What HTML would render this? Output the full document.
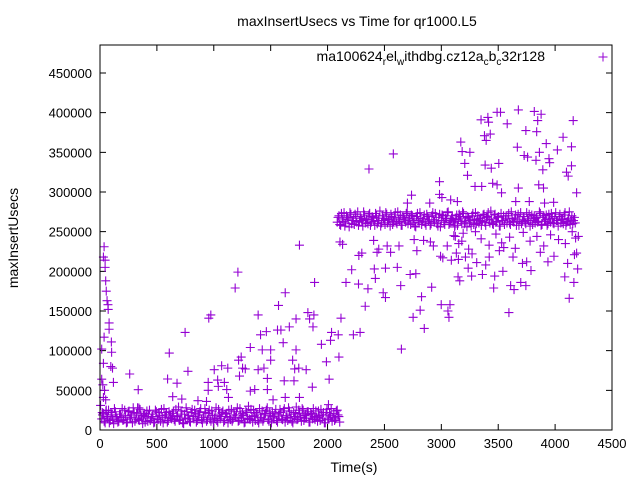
<!DOCTYPE html>
<html><head><meta charset="utf-8"><style>
html,body{margin:0;padding:0;background:#fff}
svg{display:block;font-family:"Liberation Sans",sans-serif}
</style></head><body>
<svg id="chart" width="640" height="480" viewBox="0 0 640 480">
<rect x="0" y="0" width="640" height="480" fill="#fff"/>
<text x="357" y="26" text-anchor="middle" font-size="14">maxInsertUsecs vs Time for qr1000.L5</text>
<text transform="translate(18,238) rotate(-90)" text-anchor="middle" font-size="14">maxInsertUsecs</text>
<text x="354" y="472" text-anchor="middle" font-size="14">Time(s)</text>
<g id="ticks"></g>
<g id="marks"></g>
<rect x="100" y="45" width="512" height="385" fill="none" stroke="#000" stroke-width="1"/>
<g>
<text x="545" y="61" text-anchor="end" font-size="14">ma100624<tspan font-size="10" dy="4">r</tspan><tspan dy="-4">el</tspan><tspan font-size="10" dy="4">w</tspan><tspan dy="-4">ithdbg.cz12a</tspan><tspan font-size="10" dy="4">c</tspan><tspan dy="-4">b</tspan><tspan font-size="10" dy="4">c</tspan><tspan dy="-4">32r128</tspan></text>
<path d="M598.5 57H607.5M603 52.5V61.5" stroke="#9400d3" stroke-width="1"/>
</g>
</svg>
<script>
const xTicks=[0,500,1000,1500,2000,2500,3000,3500,4000,4500];
const yTicks=[0,50000,100000,150000,200000,250000,300000,350000,400000,450000];
const band1Start=15, band1Step=15;
const band1A=[14000,21000,9000,17000,25000,12000,19000,8000,23000,15000,11000,20000,27000,13000,
18000,10000,24000,16000,9000,22000,14000,28000,12000,19000,8000,21000,17000,11000,
25000,15000,20000,10000,23000,13000,18000,26000,9000,16000,22000,12000,19000,14000,
24000,11000,17000,29000,13000,20000,8000,15000,23000,18000,10000,26000,14000,21000,
12000,19000,27000,9000,16000,22000,13000,25000,11000,18000,15000,28000,10000,20000,
17000,24000,12000,21000,9000,16000,26000,14000,19000,23000,11000,27000,15000,18000,
10000,22000,30000,13000,17000,25000,12000,20000,9000,16000,24000,14000,21000,28000,
11000,18000,23000,15000,26000,10000,19000,22000,13000,27000,16000,12000,24000,20000,
9000,17000,29000,14000,21000,11000,25000,18000,15000,23000,10000,20000,27000,13000,
16000,24000,12000,19000,22000,9000,26000,15000,18000,11000,21000,14000,25000,17000];
const band1B=[19000,11000,24000,15000,9000,22000,13000,27000,17000,10000,20000,16000,12000,25000,
9000,23000,14000,19000,28000,11000,21000,13000,26000,15000,18000,10000,24000,20000,
12000,17000,9000,25000,14000,22000,11000,16000,27000,19000,10000,23000,15000,21000,
13000,26000,18000,12000,24000,9000,20000,28000,14000,11000,22000,17000,25000,10000,
19000,23000,13000,16000,27000,11000,21000,15000,24000,9000,18000,12000,26000,14000,
22000,10000,20000,17000,25000,13000,11000,23000,16000,28000,12000,19000,21000,9000,
24000,15000,14000,26000,10000,18000,22000,12000,27000,16000,11000,20000,25000,13000,
23000,9000,17000,21000,12000,19000,26000,14000,24000,10000,18000,28000,15000,11000,
22000,20000,13000,25000,16000,27000,12000,19000,23000,10000,21000,14000,17000,24000,
11000,18000,26000,15000,9000,22000,13000,20000,27000,16000,12000,24000,19000,10000];
const band2Start=2085, band2Step=15;
const band2A=[262000,270000,258000,266000,274000,261000,268000,256000,272000,264000,259000,269000,275000,263000,
267000,257000,271000,265000,260000,273000,262000,268000,258000,270000,264000,276000,261000,267000,
259000,272000,265000,257000,269000,263000,274000,260000,266000,271000,258000,268000,262000,275000,
264000,259000,270000,266000,256000,273000,261000,267000,263000,271000,258000,269000,265000,260000,
274000,262000,268000,257000,272000,264000,270000,259000,266000,275000,261000,267000,263000,258000,
271000,265000,269000,260000,273000,262000,256000,268000,264000,270000,259000,274000,266000,261000,
267000,263000,272000,258000,269000,265000,276000,260000,271000,262000,268000,257000,273000,264000,
259000,270000,266000,261000,275000,263000,267000,258000,272000,265000,260000,269000,262000,274000,
264000,257000,271000,266000,261000,268000,263000,273000,259000,270000,265000,258000,272000,262000,
267000,260000,274000,264000,269000,261000,266000,271000,258000,263000,275000,265000,260000,268000];
const band2B=[268000,259000,273000,263000,257000,270000,265000,274000,260000,267000,272000,262000,258000,269000,
264000,275000,261000,266000,271000,258000,269000,263000,273000,260000,267000,257000,270000,264000,
274000,261000,266000,272000,259000,268000,262000,275000,263000,258000,270000,265000,273000,260000,
267000,271000,262000,257000,269000,264000,274000,259000,266000,261000,272000,263000,258000,270000,
265000,273000,260000,268000,256000,271000,262000,267000,274000,259000,264000,270000,261000,266000,
258000,272000,263000,275000,260000,267000,269000,262000,257000,273000,265000,260000,270000,264000,
258000,271000,262000,268000,274000,261000,266000,259000,272000,263000,269000,257000,264000,270000,
266000,261000,273000,259000,267000,262000,271000,265000,258000,274000,263000,269000,260000,266000,
272000,264000,259000,270000,267000,262000,275000,258000,268000,263000,271000,260000,266000,273000,
261000,269000,264000,257000,272000,265000,260000,274000,262000,267000,259000,270000,264000,261000];
const outT=[36,30,45,45,50,55,62,70,72,80,80,36,15,30,100,102,95,110,118,15,30,5,50,25,40,20,55,
261,336,342,594,609,677,639,719,748,773,861,936,951,951,956,974,1004,1034,1040,1069,1093,1114,1123,1129,
1188,1212,1218,1226,1241,1253,1277,1321,1321,1360,1390,1390,1411,1426,1441,1462,1471,1471,1500,1500,1521,
1569,1560,1590,1610,1628,1619,1628,1664,1693,1705,1711,1723,1723,1747,1753,1753,1812,1827,1842,1866,1872,
1880,1886,1946,1990,2014,2026,2035,2008,2094,2100,2118,
2109,2132,2162,2212,2227,2272,2275,2301,2286,2331,2355,2364,2405,2411,2420,2435,2450,2489,2509,2509,2524,
2554,2578,2613,2628,2643,2649,2702,2726,2738,2752,2761,2776,2785,2814,2826,2844,2850,2898,2904,2915,2930,
2984,2984,2993,2999,3005,3013,3052,3058,3067,3076,3082,3088,3117,3123,3132,3141,3147,3153,3162,3171,3183,
3192,3206,3212,3230,3236,3251,3266,3296,3311,3349,3355,3361,3379,3385,3394,3409,3415,3421,3430,3439,3451,
3460,3469,3490,3490,3505,3520,3529,3541,3549,3579,3594,3609,3639,3654,3668,3677,3677,3698,3713,3728,3743,
3743,3758,3773,3788,3817,3832,3838,3847,3856,3862,3877,3892,3898,3907,3922,3937,3946,3952,3987,4020,4070,
4085,4100,4115,4124,4144,4144,4159,4165,4189,4189,4198,4204,
3110,3180,3240,3300,3350,3420,3480,3530,3600,3650,3720,3780,3840,3900,3960,4030,4090,4150,4180,
3150,3270,3390,3510,3630,3750,3870,3990,4110,4170];
const outV=[231000,218000,214000,205000,188000,175000,163000,158000,152000,135000,127000,117000,102000,84000,111000,98000,80000,78000,60000,64000,41000,31000,38000,57000,50000,22000,25000,
70600,50800,27800,64300,97000,59000,42000,39000,123000,74000,37000,36000,60000,50000,141000,145000,76000,63000,55000,81000,60000,51000,78000,41000,
179000,199000,88000,68000,92000,78000,77000,104000,49000,51000,145000,76000,120000,101000,78000,124000,51000,65000,101000,88000,38000,
157000,126000,126000,110000,173000,62000,41000,130000,88000,62000,77000,101000,140000,78000,233000,41000,76000,148000,140000,54000,130000,
145000,186000,108000,86000,64000,113000,123000,32000,120000,92000,141000,
237000,234000,186000,202000,120000,184000,220000,223000,123000,156000,178000,329000,239000,203000,191000,224000,228000,173000,167000,204000,232000,
224000,348000,205000,232000,182000,102000,286000,196000,296000,142000,240000,197000,226000,151000,168000,239000,128000,286000,237000,180000,232000,
313000,297000,219000,158000,293000,217000,232000,150000,142000,158000,290000,214000,256000,244000,223000,288000,193000,235000,188000,363000,351000,
248000,336000,218000,321000,204000,350000,194000,307000,211000,391000,307000,196000,371000,334000,365000,394000,388000,218000,373000,330000,311000,
179000,194000,309000,400500,336000,400500,299000,200000,230000,386000,148000,182000,177000,288000,356500,305000,403500,186000,210000,346000,377500,
182000,344000,288000,201000,401500,340000,376000,390000,309000,350000,398000,328000,305000,286000,361000,212000,342000,337000,287000,353000,369000,
193000,325000,320000,166000,357000,333000,390000,186000,299000,223000,203000,244000,
245000,238000,228000,250000,241000,233000,247000,236000,243000,229000,249000,238000,244000,232000,246000,240000,235000,250000,242000,
215000,222000,208000,226000,218000,212000,224000,219000,210000,221000];

const L=100,R=612,T=45,B=430,XMAX=4500,YMAX=450000,YTOP=73;
function xs(v){return L+(R-L)*v/XMAX;}
function ys(v){return B-(B-YTOP)*v/YMAX;}
const NS='http://www.w3.org/2000/svg';
const tg=document.getElementById('ticks');
let td='';
xTicks.forEach(function(t){
  const x=xs(t);
  td+='M'+x+' '+B+'V'+(B-6)+'M'+x+' '+T+'V'+(T+6);
  const tx=document.createElementNS(NS,'text');
  tx.setAttribute('x',x);tx.setAttribute('y',448);tx.setAttribute('text-anchor','middle');tx.setAttribute('font-size','13');
  tx.textContent=t;
  
  
  tg.appendChild(tx);
});
yTicks.forEach(function(t){
  const y=ys(t);
  td+='M'+L+' '+y+'H'+(L+6)+'M'+R+' '+y+'H'+(R-6);
  const tx=document.createElementNS(NS,'text');
  tx.setAttribute('x',92);tx.setAttribute('y',y+5);tx.setAttribute('text-anchor','end');tx.setAttribute('font-size','13');
  tx.textContent=t;
  
  
  tg.appendChild(tx);
});
const tp=document.createElementNS(NS,'path');
tp.setAttribute('d',td);tp.setAttribute('stroke','#000');tp.setAttribute('fill','none');


tg.appendChild(tp);

let md='';
function plus(t,v){const x=xs(t),y=ys(v);md+='M'+(x-4.5)+' '+y+'H'+(x+4.5)+'M'+x+' '+(y-4.5)+'V'+(y+4.5);}
band1A.forEach(function(v,i){plus(band1Start+i*band1Step,v);});
band1B.forEach(function(v,i){plus(band1Start+7+i*band1Step,v);});
band2A.forEach(function(v,i){plus(band2Start+i*band2Step,v);});
band2B.forEach(function(v,i){plus(band2Start+7+i*band2Step,v);});
outT.forEach(function(t,i){plus(t,outV[i]);});
const mp=document.createElementNS(NS,'path');
mp.setAttribute('d',md);mp.setAttribute('stroke','#9400d3');mp.setAttribute('fill','none');mp.setAttribute('stroke-width','1.1');


document.getElementById('marks').appendChild(mp);
</script>
</body></html>
